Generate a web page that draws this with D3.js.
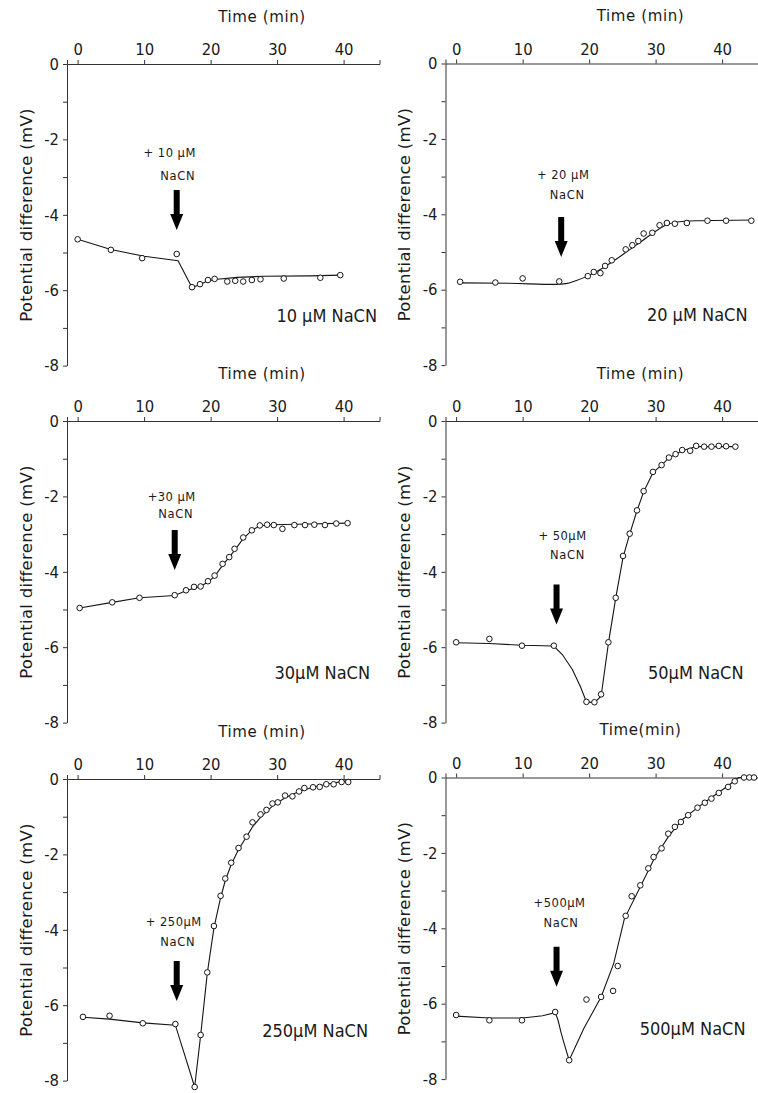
<!DOCTYPE html>
<html>
<head>
<meta charset="utf-8">
<script src="https://cdn.jsdelivr.net/npm/d3@7"></script>
<style>
  html, body { margin: 0; padding: 0; background: #fff; }
  svg { display: block; }
  text { font-family: "DejaVu Sans", "Liberation Sans", sans-serif; fill: #1a1a1a; }
</style>
</head>
<body>
<svg id="fig" width="758" height="1093"></svg>
<script>
// ---- data -------------------------------------------------------------
const concentrations = [10, 20, 30, 50, 250, 500];
const panelLabels = ["10 μM NaCN", "20 μM NaCN", "30μM NaCN", "50μM NaCN", "250μM NaCN", "500μM NaCN"];
const additionLabels = [
  ["+ 10 μM", "NaCN"], ["+ 20 μM", "NaCN"], ["+30 μM", "NaCN"],
  ["+ 50μM", "NaCN"], ["+ 250μM", "NaCN"], ["+500μM", "NaCN"]
];
const timeTitles = ["Time (min)", "Time (min)", "Time (min)", "Time (min)", "Time (min)", "Time(min)"];
const yTitle = "Potential difference (mV)";
const timeTicks = [0, 10, 20, 30, 40];
const pdTicks = [0, -1, -2, -3, -4, -5, -6, -7, -8];
const additionTime = [14.9, 15.8, 14.6, 15.1, 14.9, 15.1];   // min, NaCN added
const arrowTip = [-4.4, -5.13, -3.95, -5.4, -5.89, -5.55];    // mV, arrow tip level

// measured points [time (min), potential difference (mV)]
const obs10 = [[0,-4.65],[5,-4.93],[9.7,-5.15],[14.9,-5.04],[17.2,-5.92],[18.4,-5.84],[19.6,-5.73],[20.6,-5.7],
  [22.5,-5.77],[23.7,-5.75],[24.9,-5.77],[26.2,-5.73],[27.5,-5.71],[31.0,-5.69],[36.5,-5.67],[39.5,-5.6]];
const obs20 = [[0.6,-5.79],[5.9,-5.81],[10,-5.7],[15.5,-5.78],[19.8,-5.64],[20.7,-5.53],[21.7,-5.56],[22.4,-5.37],
  [23.4,-5.22],[25.5,-4.93],[26.5,-4.82],[27.4,-4.71],[28.2,-4.51],[29.5,-4.49],[30.6,-4.29],[31.7,-4.23],
  [32.9,-4.25],[34.7,-4.23],[37.8,-4.17],[40.6,-4.17],[44.4,-4.17]];
const obs30 = [[0.3,-4.96],[5.2,-4.81],[9.3,-4.69],[14.6,-4.62],[16.3,-4.49],[17.5,-4.4],[18.5,-4.39],[19.6,-4.25],
  [20.6,-4.1],[21.8,-3.79],[22.8,-3.61],[23.6,-3.39],[24.9,-3.09],[26.2,-2.9],[27.4,-2.77],[28.5,-2.75],
  [29.5,-2.76],[30.8,-2.86],[32.6,-2.76],[34.2,-2.76],[35.6,-2.75],[37.2,-2.76],[38.9,-2.72],[40.6,-2.71]];
const obs50 = [[0,-5.87],[5,-5.78],[9.9,-5.96],[14.7,-5.96],[19.6,-7.45],[20.8,-7.46],[21.8,-7.25],[22.9,-5.87],
  [24.0,-4.69],[25.1,-3.58],[26.1,-2.99],[27.2,-2.37],[28.2,-1.86],[29.6,-1.35],[30.9,-1.17],[32.0,-0.97],
  [33.0,-0.88],[34.0,-0.77],[35.2,-0.79],[36.1,-0.66],[37.3,-0.68],[38.4,-0.68],[39.5,-0.66],[40.6,-0.67],[42.0,-0.68]];
const obs250 = [[0.8,-6.31],[4.8,-6.28],[9.8,-6.48],[14.7,-6.5],[17.6,-8.17],[18.5,-6.79],[19.5,-5.13],[20.5,-3.9],
  [21.5,-3.1],[22.2,-2.64],[23.1,-2.22],[24.2,-1.83],[25.4,-1.53],[26.3,-1.15],[27.5,-0.94],[28.4,-0.82],
  [29.3,-0.65],[30.1,-0.62],[31.2,-0.44],[32.3,-0.46],[33.3,-0.33],[34.1,-0.24],[35.4,-0.22],[36.4,-0.21],
  [37.4,-0.14],[38.5,-0.14],[39.7,-0.08],[40.7,-0.08]];
const obs500 = [[0,-6.3],[5,-6.44],[9.9,-6.44],[14.9,-6.22],[17.0,-7.5],[19.6,-5.89],[21.8,-5.82],[23.6,-5.66],
  [24.3,-5.0],[25.5,-3.67],[26.4,-3.15],[27.7,-2.86],[28.9,-2.41],[29.7,-2.11],[30.9,-1.88],[31.9,-1.49],
  [32.9,-1.31],[33.8,-1.18],[34.9,-1.0],[36.3,-0.8],[37.4,-0.67],[38.4,-0.56],[39.5,-0.41],[40.9,-0.25],
  [41.9,-0.1],[43.3,0],[44.1,0],[44.8,0]];

// drawn response curves [time (min), potential difference (mV)]
const fit10 = [[0,-4.65],[5,-4.92],[10,-5.1],[15.1,-5.22],[17.2,-5.93],[18.4,-5.85],[19.6,-5.75],[21,-5.71],
  [24,-5.66],[28,-5.63],[35,-5.62],[39.5,-5.6]];
const fit20 = [[0.6,-5.82],[8,-5.83],[15,-5.86],[16.5,-5.84],[18,-5.76],[20,-5.62],[22,-5.43],[24,-5.2],
  [26,-4.95],[28,-4.7],[30,-4.45],[31.5,-4.29],[33,-4.21],[36,-4.17],[44.6,-4.15]];
const fit30 = [[0.3,-4.96],[5.2,-4.81],[9.3,-4.69],[14.6,-4.63],[16.3,-4.5],[18.5,-4.38],[19.6,-4.27],[20.6,-4.12],
  [21.8,-3.83],[23.6,-3.43],[24.9,-3.12],[26.2,-2.9],[27.4,-2.78],[29,-2.75],[33,-2.74],[40.6,-2.71]];
const fit50 = [[0,-5.88],[5,-5.9],[9.9,-5.95],[14.7,-5.97],[16,-6.2],[17.5,-6.6],[18.7,-7.05],[19.6,-7.45],
  [20.8,-7.47],[21.8,-7.3],[22.9,-5.9],[24.0,-4.7],[25.1,-3.62],[26.1,-3.0],[27.2,-2.38],[28.2,-1.88],
  [29.6,-1.37],[30.9,-1.17],[32,-0.98],[33,-0.88],[34,-0.79],[36.1,-0.68],[42,-0.68]];
const fit250 = [[0.8,-6.32],[4.8,-6.37],[9.8,-6.47],[14.7,-6.53],[17.6,-8.17],[18.5,-6.8],[19.5,-5.15],[20.5,-3.95],
  [21.5,-3.15],[22.2,-2.7],[23.1,-2.27],[24.2,-1.87],[25.4,-1.53],[26.3,-1.27],[27.5,-1.02],[29.3,-0.72],
  [31.2,-0.5],[33.3,-0.33],[35.4,-0.22],[37.4,-0.14],[39.7,-0.07],[40.9,-0.04]];
const fit500 = [[0,-6.33],[5,-6.38],[10,-6.38],[13,-6.32],[14.9,-6.24],[15.3,-6.42],[15.8,-6.78],[16.4,-7.15],
  [17.0,-7.5],[19.2,-6.66],[21.8,-5.82],[23.7,-4.93],[25.3,-3.75],[27.7,-2.9],[29.8,-2.15],[32,-1.55],
  [34,-1.12],[36.3,-0.8],[38.4,-0.53],[40.9,-0.22],[42.5,0],[45.2,0]];

const observed = [obs10, obs20, obs30, obs50, obs250, obs500];
const fitted = [fit10, fit20, fit30, fit50, fit250, fit500];

// ---- layout -------------------------------------------------------------
// ax: y-axis position, y0: level of the 0 mV line, lx: right end of the panel
// label; lab1/lab2: offsets of the addition note lines from the arrow top [dx, dy]
const layout = [
  { ax: 67,    y0: 64,    lx: 310, lab1: [-7, -33], lab2: [1, -10] },
  { ax: 445.5, y0: 63.5,  lx: 302, lab1: [2, -38],  lab2: [6, -18] },
  { ax: 67,    y0: 421,   lx: 303, lab1: [-3, -29], lab2: [1, -12] },
  { ax: 445.5, y0: 421,   lx: 298, lab1: [6, -45],  lab2: [11, -26] },
  { ax: 67,    y0: 779,   lx: 301, lab1: [-3, -35], lab2: [1, -15] },
  { ax: 445.5, y0: 777.5, lx: 300, lab1: [3, -40],  lab2: [4.5, -20] }
];
const curves = [d3.curveLinear, d3.curveMonotoneX, d3.curveLinear, d3.curveLinear, d3.curveLinear, d3.curveLinear];
const ink = "#151515";

const svg = d3.select("#fig");

concentrations.forEach((c, i) => {
  const L = layout[i];
  const x = d3.scaleLinear().domain([-1.6, 45.4]).range([L.ax, L.ax + 312.5]);
  const y = d3.scaleLinear().domain([0, -8]).range([L.y0, L.y0 + 301.6]);
  const g = svg.append("g").attr("class", "panel-" + c);

  // time axis along 0 mV, ticks pointing up
  const xa = g.append("g")
    .attr("transform", `translate(0,${L.y0})`)
    .call(d3.axisTop(x).tickValues(timeTicks).tickSize(4).tickSizeOuter(4).tickPadding(5)
      .tickFormat(d => String(d)));
  xa.attr("font-family", null).attr("font-size", null);
  xa.select(".domain").attr("stroke", "#333").attr("stroke-width", 1);
  xa.selectAll(".tick line").attr("stroke", "#333");
  xa.selectAll("text").attr("fill", ink).style("font-size", "16.5px").style("font-stretch", "condensed");

  // potential axis
  const ya = g.append("g")
    .attr("transform", `translate(${L.ax},0)`)
    .call(d3.axisLeft(y).tickValues(pdTicks).tickSize(4).tickSizeOuter(0).tickPadding(4)
      .tickFormat(d => (d % 2 === 0 ? String(d) : "")));
  ya.attr("font-family", null).attr("font-size", null);
  ya.select(".domain").attr("stroke", "#333").attr("stroke-width", 1);
  ya.selectAll(".tick line").attr("stroke", "#333");
  ya.selectAll("text").attr("fill", ink).style("font-size", "16.5px").style("font-stretch", "condensed");

  // axis titles
  g.append("text")
    .attr("x", L.ax + 195).attr("y", L.y0 - 42.5)
    .attr("text-anchor", "middle")
    .style("font-size", "15px").style("letter-spacing", "0.6px")
    .text(timeTitles[i]);
  g.append("text")
    .attr("transform", `translate(${L.ax - 41},${L.y0 + 151}) rotate(-90)`)
    .attr("text-anchor", "middle").attr("dy", "0.35em")
    .style("font-size", "16.5px").style("letter-spacing", "0.3px")
    .text(yTitle);

  // response curve and measured points
  const line = d3.line().x(d => x(d[0])).y(d => y(d[1])).curve(curves[i]);
  g.append("path")
    .datum(fitted[i])
    .attr("d", line)
    .attr("fill", "none").attr("stroke", ink).attr("stroke-width", 1.1);
  g.selectAll("circle.obs")
    .data(observed[i])
    .join("circle")
    .attr("class", "obs")
    .attr("cx", d => x(d[0])).attr("cy", d => y(d[1]))
    .attr("r", 2.8)
    .attr("fill", "#fff").attr("stroke", ink).attr("stroke-width", 1);

  // NaCN addition arrow and note
  const axp = x(additionTime[i]);
  const tip = y(arrowTip[i]);
  const top = tip - 40;
  g.append("path")
    .attr("d", `M${axp - 3},${top} H${axp + 3} V${tip - 16} H${axp + 6.5} L${axp},${tip} L${axp - 6.5},${tip - 16} H${axp - 3} Z`)
    .attr("fill", "#000");
  g.append("text")
    .attr("x", axp + L.lab1[0]).attr("y", top + L.lab1[1])
    .attr("text-anchor", "middle")
    .style("font-size", "11.5px").style("letter-spacing", "0.5px")
    .text(additionLabels[i][0]);
  g.append("text")
    .attr("x", axp + L.lab2[0]).attr("y", top + L.lab2[1])
    .attr("text-anchor", "middle")
    .style("font-size", "11.5px").style("letter-spacing", "0.7px")
    .text(additionLabels[i][1]);

  // panel label
  g.append("text")
    .attr("x", L.ax + L.lx).attr("y", L.y0 + 257.5)
    .attr("text-anchor", "end")
    .style("font-size", "18px").style("font-stretch", "condensed")
    .text(panelLabels[i]);
});
</script>
</body>
</html>
